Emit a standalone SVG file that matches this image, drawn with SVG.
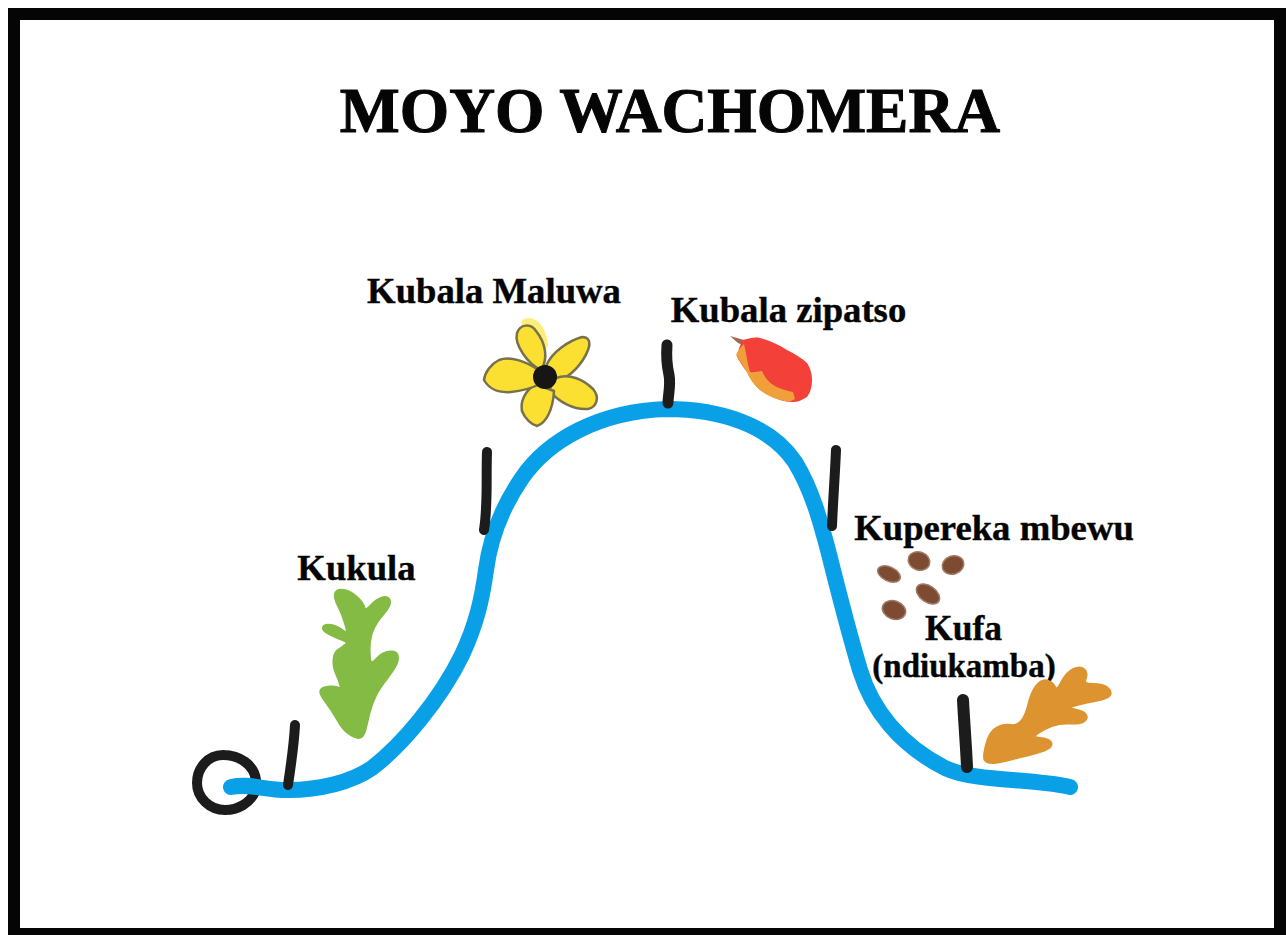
<svg xmlns="http://www.w3.org/2000/svg" width="1286" height="935" viewBox="0 0 1286 935">
<style>
text{font-family:"Liberation Serif","Times New Roman",serif;font-weight:bold;fill:#050505;stroke:#050505;stroke-width:.4}
.lbl{font-size:36.7px}
.ink{fill:none;stroke:#1c1c1c;stroke-linecap:round;stroke-linejoin:round}
.seed{fill:#7d4a32;stroke:#a07a66;stroke-width:1.5}
.petal{fill:#fbe032;stroke:#77724a;stroke-width:2.5;stroke-linejoin:round}
.leaf{stroke-width:4;stroke-linejoin:round}
</style>
<rect width="1286" height="935" fill="#fff"/>
<rect x="14" y="14" width="1266" height="920" fill="none" stroke="#050505" stroke-width="12"/>
<text x="670" y="132" font-size="63.5" text-anchor="middle" style="stroke-width:1">MOYO WACHOMERA</text>

<g id="start">
<path class="ink" stroke-width="10" d="M256 780C254 765 240 755 223 755C208 755 197 768 197 783C197 798 210 810 225 810C238 810 250 803 255 792"/>
</g>
<g id="connectors">
<path fill="none" stroke="#0aa0e8" stroke-width="16" stroke-linecap="round" stroke-linejoin="round" d="M231 787C250 783 262 790 288 790C320 790 352 782 372 768C402 745 440 700 462 655C476 625 482 600 486 570C490 540 500 510 522 478C548 440 600 411 667 409C720 409 770 425 795 462C812 490 820 520 828 550C838 590 848 630 860 670C872 710 900 745 945 768C975 782 1030 778 1070 787"/>
<path class="ink" stroke-width="10" d="M295 725C294 745 291 765 288 785"/>
<path class="ink" stroke-width="10" d="M487 452C486 480 488 505 484 530"/>
<path class="ink" stroke-width="11" d="M667 345C666 358 667 366 669 375C671 385 668 395 668 403"/>
<path class="ink" stroke-width="10" d="M836 450C835 475 833 500 832 526"/>
<path class="ink" stroke-width="12" d="M963 700C964 720 966 745 967 767"/>
</g>

<g id="kukula">
<text class="lbl" x="356.500" y="580" text-anchor="middle">Kukula</text>
<path class="leaf" fill="#84bb44" stroke="#84bb44" d="M343.500 591Q350 592 356 597.500Q362 603 363.500 608Q365 613 371 606.500Q377 600 382.500 598.500Q388 597 389 601Q390 605 383.500 612.500Q377 620 373.500 626.500Q370 633 369 641.500Q368 650 369 658.500Q370 667 376.500 660Q383 653 390 652.500Q397 652 397 657.500Q397 663 392 670Q387 677 381 685Q375 693 371.500 703Q368 713 365.500 725.500Q363 738 358 737Q353 736 348 732Q343 728 338 719Q333 710 326.500 701.500Q320 693 321.500 690.500Q323 688 330 687.500Q337 687 340 689.500Q343 692 341.500 686Q340 680 337 673.500Q334 667 334.500 660Q335 653 339 650.500Q343 648 346.500 645Q350 642 343.500 639.500Q337 637 330 633.500Q323 630 324 627.500Q325 625 331 626Q337 627 343.500 632Q350 637 346.500 625Q343 613 339 605.500Q335 598 336 594Q337 590 343.500 591Z"/>
</g>

<g id="maluwa">
<text class="lbl" x="494" y="303" text-anchor="middle">Kubala Maluwa</text>
<path fill="#fdee7a" d="M522 320C535 314 546 325 548 345L540 360L520 350ZM520 410C528 428 545 424 548 405L530 395Z"/>
<path class="petal" d="M541 370C528 364 514 345 517 333C520 324 531 323 536 331C545 342 549 358 541 370Z"/>
<path class="petal" d="M546 366C552 352 568 341 582 337C589 337 591 342 588 350C583 363 570 378 558 380Z"/>
<path class="petal" d="M556 378C570 373 584 380 593 389C600 397 597 407 588 409C574 410 558 402 549 390Z"/>
<path class="petal" d="M535 384C526 391 520 400 522 411C525 419 532 425 537 426C546 423 553 410 554 391Z"/>
<path class="petal" d="M538 370C526 361 510 356 499 360C491 364 485 372 484 380C489 389 498 393 511 392C522 391 532 388 540 384Z"/>
<circle cx="545" cy="377" r="12" fill="#161616"/>
</g>

<g id="zipatso">
<text class="lbl" x="788.500" y="322" text-anchor="middle">Kubala zipatso</text>
<path fill="#a5674c" d="M730 336L744 340L745 346L738 343Z"/>
<path fill="#f3413a" d="M743 340C750 338 755 337 760 338C770 341 779 345 787 350C795 354 802 358 807 363C811 369 812 375 812 380C812 388 810 393 807 397C802 400 798 402 793 402C788 402 784 401 780 400C772 397 766 394 760 390C755 385 750 378 747 372C743 367 740 362 737 357C738 350 740 345 743 340Z"/>
<path fill="#f0a03a" d="M736 355C738 350 741 347 744 344C746 352 747 362 750 372C754 373 758 371 762 371C766 380 772 388 793 392L795 399C790 403 782 401 777 399C762 394 752 385 747 372Z"/>
</g>

<g id="mbewu">
<text class="lbl" x="994" y="540" text-anchor="middle">Kupereka mbewu</text>
<ellipse class="seed" cx="919" cy="561" rx="11" ry="9" transform="rotate(20 919 561)"/>
<ellipse class="seed" cx="953" cy="565" rx="11" ry="9" transform="rotate(-20 953 565)"/>
<ellipse class="seed" cx="889" cy="574" rx="12" ry="7" transform="rotate(25 889 574)"/>
<ellipse class="seed" cx="928" cy="594" rx="13" ry="8" transform="rotate(35 928 594)"/>
<ellipse class="seed" cx="894" cy="610" rx="12" ry="9" transform="rotate(20 894 610)"/>
</g>

<g id="kufa">
<text x="963.500" y="640" font-size="35.500" text-anchor="middle">Kufa</text>
<text x="964" y="677" font-size="33" text-anchor="middle">(ndiukamba)</text>
<path class="leaf" fill="#dd9430" stroke="#dd9430" d="M987 745Q990 733 996.500 729Q1003 725 1010.500 726Q1018 727 1022.500 721Q1027 715 1029.500 704Q1032 693 1037 686.500Q1042 680 1047 681.500Q1052 683 1054.500 688Q1057 693 1062 683Q1067 673 1073.500 670Q1080 667 1083.500 670Q1087 673 1084.500 679Q1082 685 1092.500 685Q1103 685 1107 688.500Q1111 692 1109 695Q1107 698 1095 700Q1083 702 1073 705Q1063 708 1073 710Q1083 712 1085 715Q1087 718 1083.500 720.500Q1080 723 1070 722.500Q1060 722 1051.500 725Q1043 728 1036.500 733Q1030 738 1040 739Q1050 740 1050.500 743.500Q1051 747 1044 749.500Q1037 752 1027 754.500Q1017 757 1007 759.500Q997 762 992 762Q987 762 985.500 759.500Q984 757 987 745Z"/>
</g>
</svg>
